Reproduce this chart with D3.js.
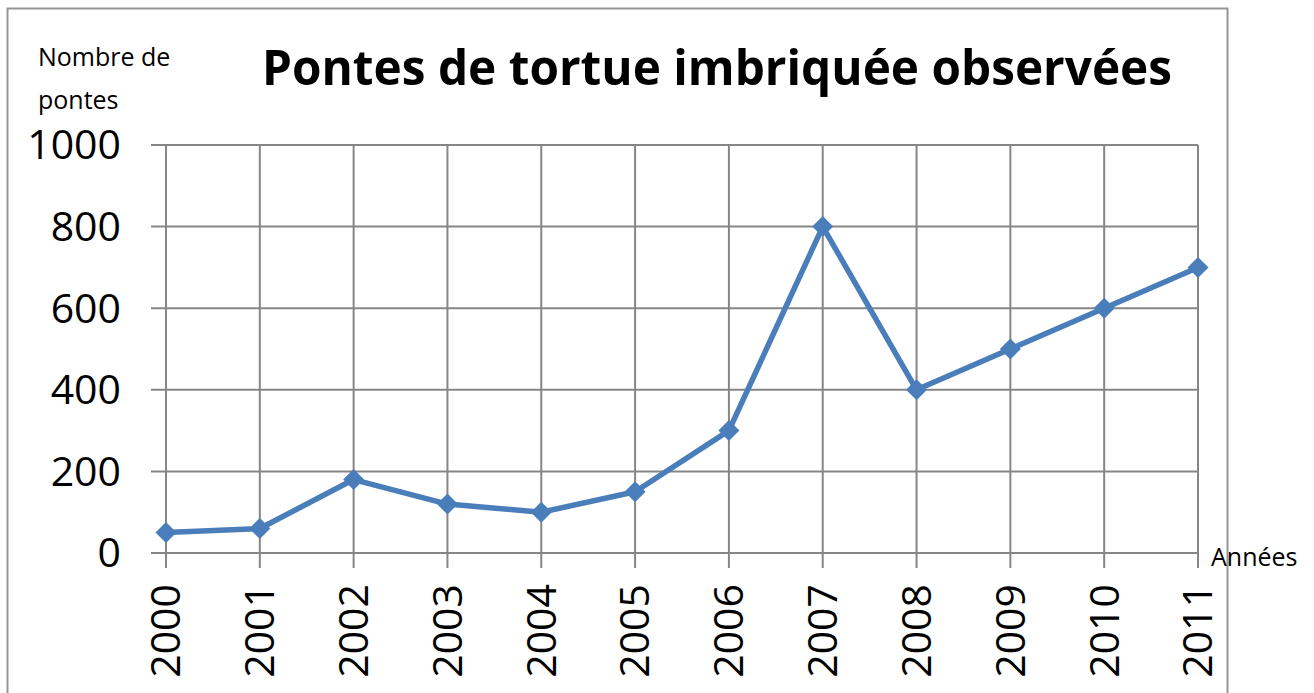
<!DOCTYPE html>
<html>
<head>
<meta charset="utf-8">
<script src="https://cdn.jsdelivr.net/npm/d3@7"></script>
<style>
  body { margin: 0; background: #fff; }
  text { font-family: "Open Sans", "Noto Sans", sans-serif; fill: #000; }
</style>
</head>
<body>
<script>
// data
var years = ["2000", "2001", "2002", "2003", "2004", "2005",
             "2006", "2007", "2008", "2009", "2010", "2011"];
var pontes = [50, 60, 180, 120, 100, 150, 300, 800, 400, 500, 600, 700];
var yTicks = [0, 200, 400, 600, 800, 1000];

var W = 1314, H = 693;
var plot = { left: 166, right: 1198, top: 145, bottom: 553 };
var blue = "#4a7ebb", grid = "#868686";

var svg = d3.select("body").append("svg")
    .attr("width", W)
    .attr("height", H);

// outer frame of the chart (bottom edge runs off the picture)
svg.append("rect")
    .attr("x", 7.5).attr("y", 8.5)
    .attr("width", 1220).attr("height", 720)
    .attr("fill", "none")
    .attr("stroke", "#959595")
    .attr("stroke-width", 2);

var x = d3.scalePoint()
    .domain(years)
    .range([plot.left, plot.right]);

var y = d3.scaleLinear()
    .domain([0, 1000])
    .range([plot.bottom, plot.top]);

// horizontal grid + left ticks
svg.append("g").selectAll("line")
    .data(yTicks)
    .enter().append("line")
        .attr("x1", plot.left - 15)
        .attr("x2", plot.right)
        .attr("y1", d => y(d))
        .attr("y2", d => y(d))
        .attr("stroke", grid)
        .attr("stroke-width", 2);

// vertical grid + bottom ticks
svg.append("g").selectAll("line")
    .data(years)
    .enter().append("line")
        .attr("x1", d => x(d))
        .attr("x2", d => x(d))
        .attr("y1", plot.top)
        .attr("y2", plot.bottom + 15)
        .attr("stroke", grid)
        .attr("stroke-width", 2);

// y labels
svg.append("g").selectAll("text")
    .data(yTicks)
    .enter().append("text")
        .attr("x", 121)
        .attr("y", d => y(d))
        .attr("dy", "0.35em")
        .attr("text-anchor", "end")
        .attr("font-size", 41)
        .text(d => d);

// x labels, rotated
svg.append("g").selectAll("text")
    .data(years)
    .enter().append("text")
        .attr("transform", d => "translate(" + x(d) + "," + 584 + ") rotate(-90)")
        .attr("dy", "0.35em")
        .attr("text-anchor", "end")
        .attr("font-size", 41)
        .text(d => d);

// series
var line = d3.line()
    .x((d, i) => x(years[i]))
    .y(d => y(d));

svg.append("path")
    .datum(pontes)
    .attr("d", line)
    .attr("fill", "none")
    .attr("stroke", blue)
    .attr("stroke-width", 5.5)
    .attr("stroke-linejoin", "round");

var diamond = d3.symbol().type(d3.symbolSquare).size(220);
svg.append("g").selectAll("path")
    .data(pontes)
    .enter().append("path")
        .attr("d", diamond)
        .attr("transform", (d, i) => "translate(" + x(years[i]) + "," + y(d) + ") rotate(45)")
        .attr("fill", blue);

// texts
svg.append("text")
    .attr("x", 262).attr("y", 85)
    .attr("font-size", 49)
    .attr("font-weight", "bold")
    .attr("textLength", 910)
    .attr("lengthAdjust", "spacingAndGlyphs")
    .text("Pontes de tortue imbriquée observées");

svg.append("text")
    .attr("x", 38).attr("y", 66)
    .attr("font-size", 25)
    .text("Nombre de");

svg.append("text")
    .attr("x", 38).attr("y", 109)
    .attr("font-size", 25)
    .text("pontes");

svg.append("text")
    .attr("x", 1211).attr("y", 566)
    .attr("font-size", 25)
    .text("Années");
</script>
</body>
</html>
